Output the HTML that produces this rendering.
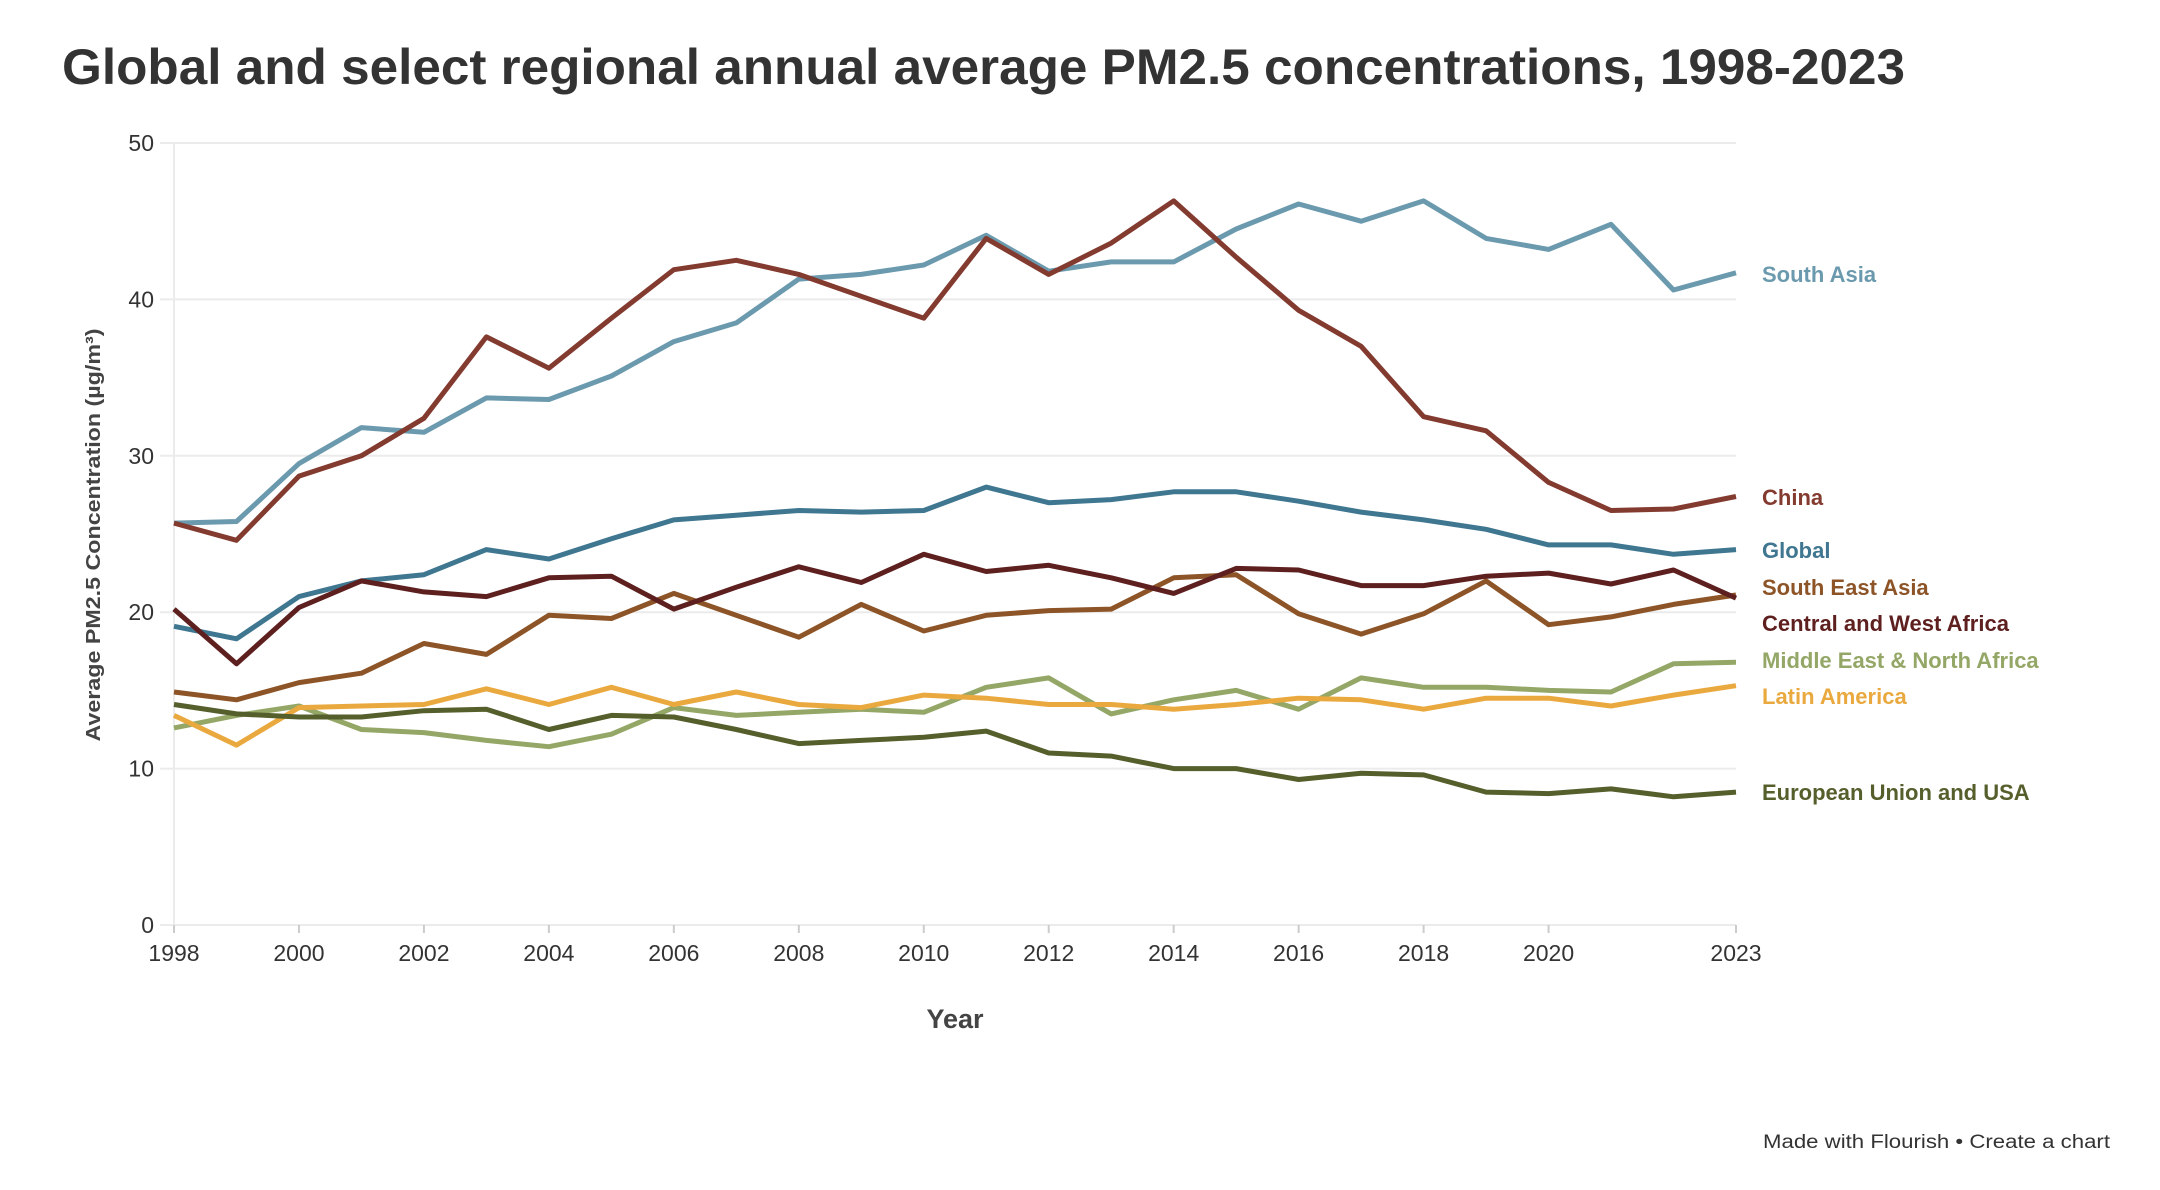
<!DOCTYPE html>
<html><head><meta charset="utf-8"><style>
body{margin:0;background:#fff;width:2160px;height:1185px;overflow:hidden;font-family:"Liberation Sans",sans-serif}
</style></head><body>
<svg id="chart" width="2160" height="1185" xmlns="http://www.w3.org/2000/svg" font-family="Liberation Sans, sans-serif">
<text x="62" y="84" font-size="50" font-weight="bold" fill="#333" textLength="1843" lengthAdjust="spacingAndGlyphs">Global and select regional annual average PM2.5 concentrations, 1998-2023</text>
<g id="grid"></g>
<g id="axes"></g>
<g id="lines"></g>
<g id="labels"></g>
<text x="955" y="1028" font-size="27" font-weight="bold" fill="#444" text-anchor="middle">Year</text>
<text transform="translate(100,535) rotate(-90)" font-size="20" font-weight="bold" fill="#444" text-anchor="middle" textLength="413" lengthAdjust="spacingAndGlyphs">Average PM2.5 Concentration (µg/m³)</text>
<text x="2110" y="1148" font-size="19" fill="#333" text-anchor="end" textLength="347" lengthAdjust="spacingAndGlyphs">Made with Flourish • Create a chart</text>
</svg>
<script>
const years=[1998,1999,2000,2001,2002,2003,2004,2005,2006,2007,2008,2009,2010,2011,2012,2013,2014,2015,2016,2017,2018,2019,2020,2021,2022,2023];
const yTicks=[0,10,20,30,40,50];
const xTicks=[1998,2000,2002,2004,2006,2008,2010,2012,2014,2016,2018,2020,2023];
const seriesNames=["South Asia","China","Global","South East Asia","Central and West Africa","Middle East & North Africa","Latin America","European Union and USA"];
const southAsia=[25.7,25.8,29.5,31.8,31.5,33.7,33.6,35.1,37.3,38.5,41.3,41.6,42.2,44.1,41.8,42.4,42.4,44.5,46.1,45.0,46.3,43.9,43.2,44.8,40.6,41.7];
const china=[25.7,24.6,28.7,30.0,32.4,37.6,35.6,38.8,41.9,42.5,41.6,40.2,38.8,43.9,41.6,43.6,46.3,42.7,39.3,37.0,32.5,31.6,28.3,26.5,26.6,27.4];
const globalAvg=[19.1,18.3,21.0,22.0,22.4,24.0,23.4,24.7,25.9,26.2,26.5,26.4,26.5,28.0,27.0,27.2,27.7,27.7,27.1,26.4,25.9,25.3,24.3,24.3,23.7,24.0];
const seAsia=[14.9,14.4,15.5,16.1,18.0,17.3,19.8,19.6,21.2,19.8,18.4,20.5,18.8,19.8,20.1,20.2,22.2,22.4,19.9,18.6,19.9,22.0,19.2,19.7,20.5,21.1];
const cwAfrica=[20.2,16.7,20.3,22.0,21.3,21.0,22.2,22.3,20.2,21.6,22.9,21.9,23.7,22.6,23.0,22.2,21.2,22.8,22.7,21.7,21.7,22.3,22.5,21.8,22.7,20.9];
const mena=[12.6,13.4,14.0,12.5,12.3,11.8,11.4,12.2,13.9,13.4,13.6,13.8,13.6,15.2,15.8,13.5,14.4,15.0,13.8,15.8,15.2,15.2,15.0,14.9,16.7,16.8];
const latAm=[13.4,11.5,13.9,14.0,14.1,15.1,14.1,15.2,14.1,14.9,14.1,13.9,14.7,14.5,14.1,14.1,13.8,14.1,14.5,14.4,13.8,14.5,14.5,14.0,14.7,15.3];
const euUsa=[14.1,13.5,13.3,13.3,13.7,13.8,12.5,13.4,13.3,12.5,11.6,11.8,12.0,12.4,11.0,10.8,10.0,10.0,9.3,9.7,9.6,8.5,8.4,8.7,8.2,8.5];
const allSeries=[southAsia,china,globalAvg,seAsia,cwAfrica,mena,latAm,euUsa];
const colors=["#6b9aae","#833a2f","#3f7690","#8d5427","#5e1f1f","#94a767","#eaa93f","#545f2c"];
const labelYs=[274,497,550,587,623,660,696,792];
const X0=174,X1=1736,Y0=925,Y1=143;
const x=v=>X0+(v-1998)/(2023-1998)*(X1-X0);
const y=v=>Y0-(v-0)/(50-0)*(Y0-Y1);
const NS="http://www.w3.org/2000/svg";
function mk(tag,attrs,parent,txt){const e=document.createElementNS(NS,tag);for(const k in attrs)e.setAttribute(k,attrs[k]);if(txt!==undefined)e.textContent=txt;parent.appendChild(e);return e;}
const grid=document.getElementById('grid'),axes=document.getElementById('axes'),lines=document.getElementById('lines'),labels=document.getElementById('labels');
yTicks.forEach(t=>{
  const l=mk('line',{x1:X0-14,x2:X1,y1:y(t),y2:y(t),stroke:'#ebebeb','stroke-width':2},grid);
  
  
  const tx=mk('text',{x:X0-20,y:y(t)+8,'font-size':23,fill:'#333','text-anchor':'end'},axes,t);
  
  
});
const ax=mk('line',{x1:X0,x2:X0,y1:Y1,y2:Y0+8,stroke:'#ebebeb','stroke-width':2},axes);


xTicks.forEach(t=>{
  const tk=mk('line',{x1:x(t),x2:x(t),y1:Y0,y2:Y0+8,stroke:'#ccc','stroke-width':2},axes);
  
  
  const tx=mk('text',{x:x(t),y:Y0+36,'font-size':23,fill:'#333','text-anchor':'middle'},axes,t);
  
  
});
allSeries.forEach((s,i)=>{
  const d=s.map((v,j)=>(j?'L':'M')+x(years[j]).toFixed(1)+','+y(v).toFixed(1)).join('');
  const p=mk('path',{d:d,fill:'none',stroke:colors[i],'stroke-width':5,'stroke-linejoin':'round'},lines);
  
  
  const t=mk('text',{x:1762,y:labelYs[i]+8,'font-size':22,'font-weight':'bold',fill:colors[i]},labels,seriesNames[i]);
  
  
});
</script>
</body></html>
